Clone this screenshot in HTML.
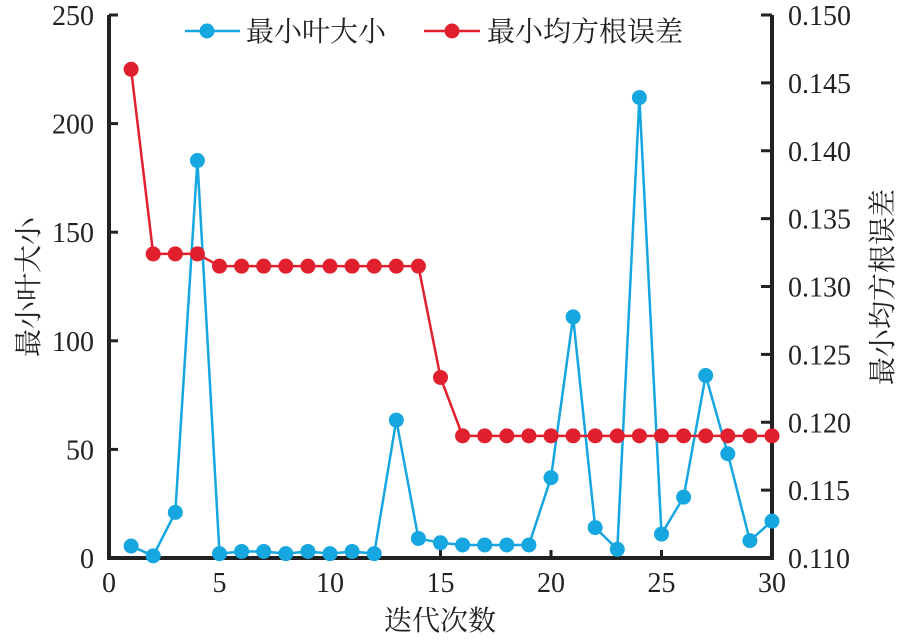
<!DOCTYPE html>
<html><head><meta charset="utf-8"><style>
body{margin:0;background:#fff}
text{font-family:"Liberation Serif","Noto Serif CJK SC",serif;fill:#222}
</style></head><body>
<svg id="c" width="905" height="638" xmlns="http://www.w3.org/2000/svg"></svg>
<script>
const iterations=[1,2,3,4,5,6,7,8,9,10,11,12,13,14,15,16,17,18,19,20,21,22,23,24,25,26,27,28,29,30];
const leafSize=[5.5,1,21,183,2,3,3,2,3,2,3,2,63.5,9,7,6,6,6,6,37,111,14,4,212,11,28,84,48,8,17];
const rmse=[0.146,0.1324,0.1324,0.1324,0.1315,0.1315,0.1315,0.1315,0.1315,0.1315,0.1315,0.1315,0.1315,0.1315,0.1233,0.119,0.119,0.119,0.119,0.119,0.119,0.119,0.119,0.119,0.119,0.119,0.119,0.119,0.119,0.119];
const xTicks=[0,5,10,15,20,25,30];
const yTicks=[0,50,100,150,200,250];
const y2Ticks=[0.110,0.115,0.120,0.125,0.130,0.135,0.140,0.145,0.150];
const L=109,R=772,T=15,B=558;
const xs=v=>L+(v/30)*(R-L);
const ys=v=>B-(v/250)*(B-T);
const y2s=v=>B-((v-0.110)/0.040)*(B-T);
const svg=document.getElementById('c');
const NS='http://www.w3.org/2000/svg';
function mk(tag,attrs,txt){const e=document.createElementNS(NS,tag);for(const k in attrs)e.setAttribute(k,attrs[k]);if(txt!==undefined)e.textContent=txt;svg.appendChild(e);return e;}
let e;
e=mk('path',{d:`M${L},${T}V${B}H${R}V${T}`,fill:'none',stroke:'#222','stroke-width':4});


xTicks.forEach(t=>{
 e=mk('line',{x1:xs(t),x2:xs(t),y1:B,y2:B-8,stroke:'#222','stroke-width':3});
 
 
 e=mk('text',{x:xs(t),y:592,'text-anchor':'middle','font-size':28},String(t));
 
 
});
yTicks.forEach(t=>{
 e=mk('line',{x1:L,x2:L+9,y1:ys(t),y2:ys(t),stroke:'#222','stroke-width':3});
 
 
 e=mk('text',{x:94,y:ys(t)+10,'text-anchor':'end','font-size':28},String(t));
 
 
});
y2Ticks.forEach(t=>{
 e=mk('line',{x1:R-11,x2:R,y1:y2s(t),y2:y2s(t),stroke:'#222','stroke-width':3});
 
 
 e=mk('text',{x:788,y:y2s(t)+10,'font-size':28},t.toFixed(3));
 
 
});
e=mk('text',{x:440,y:630,'text-anchor':'middle','font-size':28},'迭代次数');


e=mk('text',{x:0,y:0,'text-anchor':'middle','font-size':28,transform:'translate(38,287) rotate(-90)'},'最小叶大小');


e=mk('text',{x:0,y:0,'text-anchor':'middle','font-size':28,transform:'translate(892,287) rotate(-90)'},'最小均方根误差');


function series(vals,sc,col,name){
 e=mk('polyline',{points:vals.map((v,i)=>xs(iterations[i])+','+sc(v)).join(' '),fill:'none',stroke:col,'stroke-width':2.5});
 
 
 vals.forEach((v,i)=>{
  e=mk('circle',{cx:xs(iterations[i]),cy:sc(v),r:7.5,fill:col});
  
  
 });
}
series(leafSize,ys,'#16a6e0','leaf-size');
series(rmse,y2s,'#e0202c','rmse');
// legend
e=mk('line',{x1:185,x2:240,y1:31,y2:31,stroke:'#16a6e0','stroke-width':2.5});


e=mk('circle',{cx:207,cy:31,r:7.5,fill:'#16a6e0'});


e=mk('text',{x:246,y:41,'font-size':28},'最小叶大小');


e=mk('line',{x1:424,x2:480,y1:31,y2:31,stroke:'#e0202c','stroke-width':2.5});


e=mk('circle',{cx:452,cy:31,r:7.5,fill:'#e0202c'});


e=mk('text',{x:487,y:41,'font-size':28},'最小均方根误差');


</script>
</body></html>
